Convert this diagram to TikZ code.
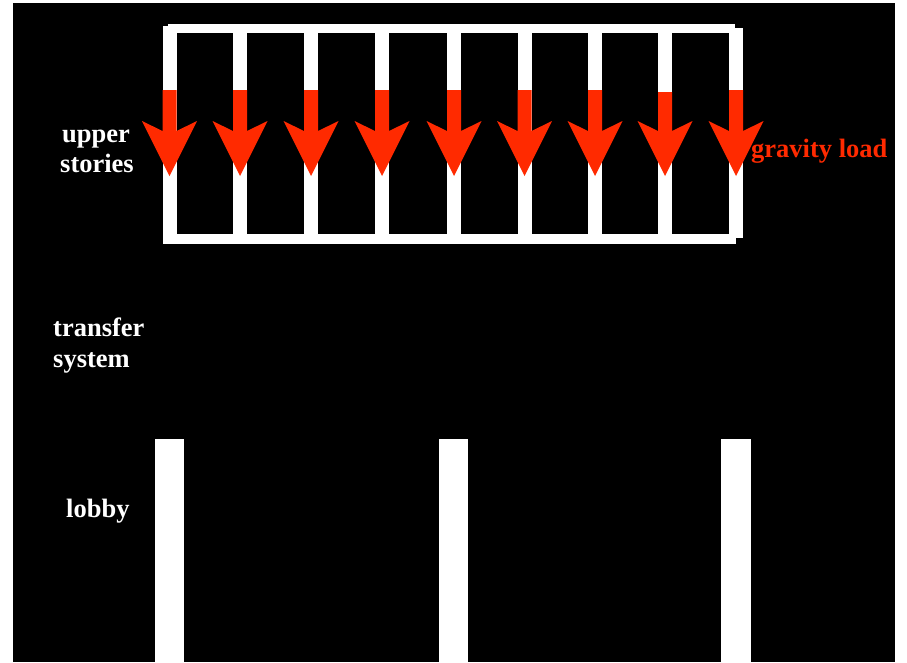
\documentclass[tikz,border=0pt]{standalone}
\usepackage{fontspec}
\setmainfont{Liberation Serif}
\begin{document}
\begin{tikzpicture}[x=1pt,y=-1pt,
  member/.style={fill=white},
  loadarrow/.style={fill=loadred},
  lbl/.style={text=white,font=\fontsize{26.5}{30}\selectfont\bfseries,inner sep=0pt,anchor=base west},
  loadlbl/.style={text=loadred,font=\fontsize{26.5}{30}\selectfont\bfseries,inner sep=0pt,anchor=base west}]
\definecolor{loadred}{RGB}{255,42,0}
\useasboundingbox (0,0) rectangle (907,662);
\fill[white] (0,0) rectangle (907,662);
\fill[black] (13,3) rectangle (895,662);
% upper stories frame
\fill[member] (168,24) rectangle (735,33);
\fill[member] (163,234) rectangle (736,244);
\foreach \cx in {169.5,240,311,382,454,524.5,595,665}{
  \fill[member] (\cx-7,26) rectangle (\cx+7,244);
}
\fill[member] (729,28) rectangle (743,238);
% gravity load arrows
\foreach \cx/\top in {169.5/90,240/90,311/90,382/90,454/90,524.5/90,595/90,665/92,736/90}{
  \fill[loadarrow] (\cx-7,\top) -- (\cx+7,\top) -- (\cx+7,131) -- (\cx+27.5,121)
     -- (\cx,176) -- (\cx-27.5,121) -- (\cx-7,131) -- cycle;
}
% lobby columns
\fill[member] (155,439) rectangle (184,662);
\fill[member] (439,439) rectangle (468,662);
\fill[member] (721,439) rectangle (751,662);
% labels
\node[lbl,anchor=base] (upper) at (96,142) {upper};
\node[lbl,anchor=base] (stories) at (97,172) {stories};
\node[lbl] (transfer) at (53,336) {transfer};
\node[lbl] (system) at (53,367) {system};
\node[lbl] (lobby) at (66,517) {lobby};
\node[loadlbl] (gload) at (751,157) {gravity load};
\end{tikzpicture}
\end{document}
